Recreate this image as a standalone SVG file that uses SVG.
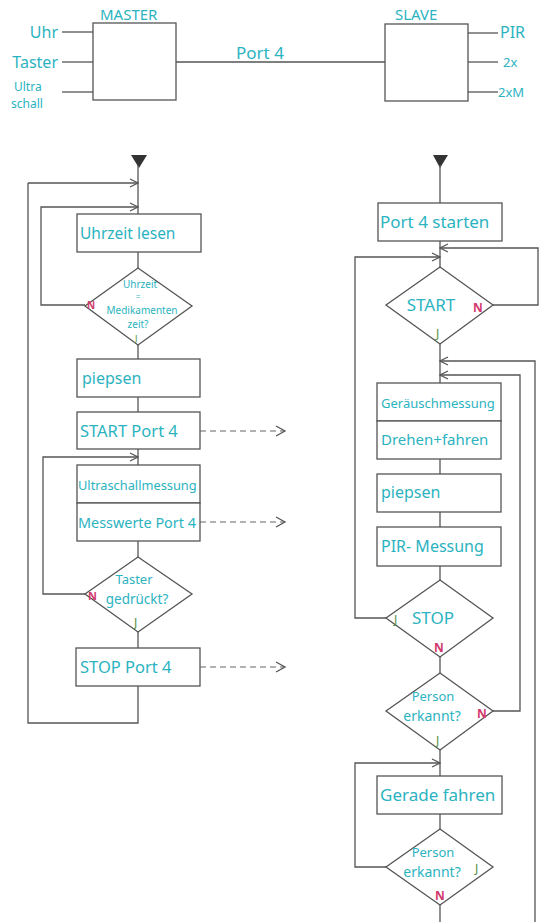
<svg xmlns="http://www.w3.org/2000/svg" width="539" height="922" viewBox="0 0 539 922">
<style>
.ln{fill:none;stroke:#555;stroke-width:1.3}
.bx{fill:#fff;stroke:#555;stroke-width:1.3}
.ds{fill:none;stroke:#666;stroke-width:1.2;stroke-dasharray:6,4}
.t{font-family:"Noto Sans","Liberation Sans",sans-serif;fill:#2bb3bf}
.m{text-anchor:middle}
.e{text-anchor:end}
.n{font-family:"Noto Sans","Liberation Sans",sans-serif;fill:#d23a6e;font-weight:bold}
.j{font-family:"Noto Sans","Liberation Sans",sans-serif;fill:#4f8f3f}
</style>
<defs>
<marker id="ar" viewBox="0 0 10 10" refX="9" refY="5" markerWidth="10" markerHeight="10" markerUnits="userSpaceOnUse" orient="auto">
<polyline points="1,1 9,5 1,9" fill="none" stroke="#555" stroke-width="1.2"/>
</marker>
</defs>
<rect width="539" height="922" fill="#fff"/>

<g id="master">
<rect class="bx" x="93" y="23" width="83" height="77"/>
<text class="t" x="100" y="20" font-size="15">MASTER</text>
</g>
<g id="slave">
<rect class="bx" x="385" y="24" width="83" height="77"/>
<text class="t" x="395" y="20" font-size="15">SLAVE</text>
</g>
<g id="inputs">
<text class="t e" x="58" y="38" font-size="16">Uhr</text>
<text class="t e" x="58" y="68" font-size="16">Taster</text>
<text class="t" x="14" y="91" font-size="12">Ultra</text>
<text class="t" x="11" y="108" font-size="12">schall</text>
<text class="t" x="500" y="38" font-size="16">PIR</text>
<text class="t" x="503" y="67" font-size="13">2x</text>
<text class="t" x="498" y="97" font-size="13">2xM</text>
<text class="t" x="236" y="59" font-size="17">Port 4</text>
</g>

<g id="connectors">
<line class="ln" x1="62" y1="32" x2="93" y2="32"/>
<line class="ln" x1="62" y1="62" x2="93" y2="62"/>
<line class="ln" x1="62" y1="92" x2="93" y2="92"/>
<line class="ln" x1="176" y1="62" x2="385" y2="62"/>
<line class="ln" x1="468" y1="33" x2="498" y2="33"/>
<line class="ln" x1="468" y1="62" x2="498" y2="62"/>
<line class="ln" x1="468" y1="92" x2="498" y2="92"/>

<polygon points="131,155 147,155 139,168" fill="#333"/>
<line class="ln" x1="138" y1="165" x2="138" y2="214"/>
<polyline class="ln" points="28,183 138,183" marker-end="url(#ar)"/>
<polyline class="ln" points="85,305 41,305 41,207 138,207" marker-end="url(#ar)"/>
<line class="ln" x1="138" y1="252" x2="138" y2="268"/>
<line class="ln" x1="138" y1="345" x2="138" y2="359"/>
<line class="ln" x1="138" y1="397" x2="138" y2="412"/>
<line class="ln" x1="138" y1="449" x2="138" y2="465"/>
<polyline class="ln" points="85,594 43,594 43,457 138,457" marker-end="url(#ar)"/>
<line class="ln" x1="138" y1="541" x2="138" y2="557"/>
<line class="ln" x1="138" y1="632" x2="138" y2="648"/>
<polyline class="ln" points="138,686 138,723 28,723 28,183"/>
<line class="ds" x1="200" y1="431" x2="284" y2="431"/>
<polyline class="ln" points="276,426 285,431 276,436"/>
<line class="ds" x1="200" y1="522" x2="284" y2="522"/>
<polyline class="ln" points="276,517 285,522 276,527"/>
<line class="ds" x1="200" y1="667" x2="284" y2="667"/>
<polyline class="ln" points="276,662 285,667 276,672"/>

<polygon points="433,155 448,155 440,168" fill="#333"/>
<line class="ln" x1="440" y1="165" x2="440" y2="203"/>
<line class="ln" x1="440" y1="241" x2="440" y2="267"/>
<polyline class="ln" points="493,305 538,305 538,248 440,248" marker-end="url(#ar)"/>
<polyline class="ln" points="386,618 355,618 355,257 440,257" marker-end="url(#ar)"/>
<line class="ln" x1="440" y1="344" x2="440" y2="383"/>
<polyline class="ln" points="535,922 535,361 440,361" marker-end="url(#ar)"/>
<polyline class="ln" points="493,711 520,711 520,375 440,375" marker-end="url(#ar)"/>
<line class="ln" x1="440" y1="459" x2="440" y2="474"/>
<line class="ln" x1="440" y1="512" x2="440" y2="527"/>
<line class="ln" x1="440" y1="566" x2="440" y2="580"/>
<line class="ln" x1="440" y1="657" x2="440" y2="673"/>
<line class="ln" x1="440" y1="750" x2="440" y2="776"/>
<polyline class="ln" points="386,867 355,867 355,763 440,763" marker-end="url(#ar)"/>
<line class="ln" x1="440" y1="814" x2="440" y2="829"/>
<line class="ln" x1="440" y1="905" x2="440" y2="922"/>
</g>

<g id="uhrzeit-lesen">
<rect class="bx" x="77" y="214" width="124" height="38"/>
<text class="t" x="80" y="239" font-size="15.5">Uhrzeit lesen</text>
</g>
<g id="d-medikament">
<polygon class="bx" points="138,268 192,306 138,345 85,306"/>
<text class="t m" x="140" y="288" font-size="10">Uhrzeit</text>
<text class="t m" x="138" y="300" font-size="8">=</text>
<text class="t m" x="142" y="313.5" font-size="10">Medikamenten</text>
<text class="t m" x="138" y="327.5" font-size="10">zeit?</text>
<text class="n" x="87" y="309" font-size="10">N</text>
<text class="j" x="135" y="342" font-size="9">J</text>
</g>
<g id="piepsen-l">
<rect class="bx" x="77" y="359" width="123" height="38"/>
<text class="t" x="82" y="384" font-size="16">piepsen</text>
</g>
<g id="start-port4">
<rect class="bx" x="77" y="412" width="123" height="37"/>
<text class="t" x="80" y="437" font-size="16.5">START Port 4</text>
</g>
<g id="ultraschall">
<rect class="bx" x="77" y="465" width="123" height="38"/>
<text class="t" x="78" y="490" font-size="12.8">Ultraschallmessung</text>
</g>
<g id="messwerte">
<rect class="bx" x="77" y="503" width="123" height="38"/>
<text class="t" x="78" y="528" font-size="14.4">Messwerte Port 4</text>
</g>
<g id="d-taster">
<polygon class="bx" points="138,557 192,594 138,632 85,594"/>
<text class="t m" x="134" y="584" font-size="13">Taster</text>
<text class="t m" x="137" y="604" font-size="13.5">gedrückt?</text>
<text class="n" x="88" y="600" font-size="11">N</text>
<text class="j" x="134" y="627" font-size="12">J</text>
</g>
<g id="stop-port4">
<rect class="bx" x="76" y="648" width="124" height="38"/>
<text class="t" x="80" y="673" font-size="16.5">STOP Port 4</text>
</g>

<g id="port4-starten">
<rect class="bx" x="378" y="203" width="124" height="38"/>
<text class="t" x="380" y="228" font-size="17">Port 4 starten</text>
</g>
<g id="d-start">
<polygon class="bx" points="440,267 493,305 440,344 386,305"/>
<text class="t m" x="431" y="311" font-size="17">START</text>
<text class="n" x="473" y="312" font-size="12">N</text>
<text class="j" x="436" y="338" font-size="12">J</text>
</g>
<g id="geraeusch">
<rect class="bx" x="377" y="383" width="124" height="38"/>
<text class="t" x="381" y="408" font-size="13">Geräuschmessung</text>
</g>
<g id="drehen">
<rect class="bx" x="377" y="421" width="124" height="38"/>
<text class="t" x="381" y="445" font-size="15">Drehen+fahren</text>
</g>
<g id="piepsen-r">
<rect class="bx" x="377" y="474" width="124" height="38"/>
<text class="t" x="381" y="498" font-size="16">piepsen</text>
</g>
<g id="pir-messung">
<rect class="bx" x="377" y="527" width="124" height="39"/>
<text class="t" x="381" y="552" font-size="16">PIR- Messung</text>
</g>
<g id="d-stop">
<polygon class="bx" points="440,580 493,618 440,657 386,618"/>
<text class="j" x="394" y="624" font-size="12">J</text>
<text class="t" x="412" y="624" font-size="17">STOP</text>
<text class="n" x="434" y="652" font-size="12">N</text>
</g>
<g id="d-person1">
<polygon class="bx" points="440,673 493,711 440,750 386,711"/>
<text class="t m" x="433" y="701" font-size="13">Person</text>
<text class="t m" x="432" y="721" font-size="14">erkannt?</text>
<text class="n" x="477" y="718" font-size="12">N</text>
<text class="j" x="436" y="745" font-size="12">J</text>
</g>
<g id="gerade-fahren">
<rect class="bx" x="377" y="776" width="125" height="38"/>
<text class="t" x="380" y="801" font-size="17">Gerade fahren</text>
</g>
<g id="d-person2">
<polygon class="bx" points="440,829 493,867 440,905 386,867"/>
<text class="t m" x="433" y="857" font-size="13">Person</text>
<text class="t m" x="432" y="877" font-size="14">erkannt?</text>
<text class="j" x="475" y="873" font-size="12">J</text>
<text class="n" x="435" y="900" font-size="12">N</text>
</g>
</svg>
